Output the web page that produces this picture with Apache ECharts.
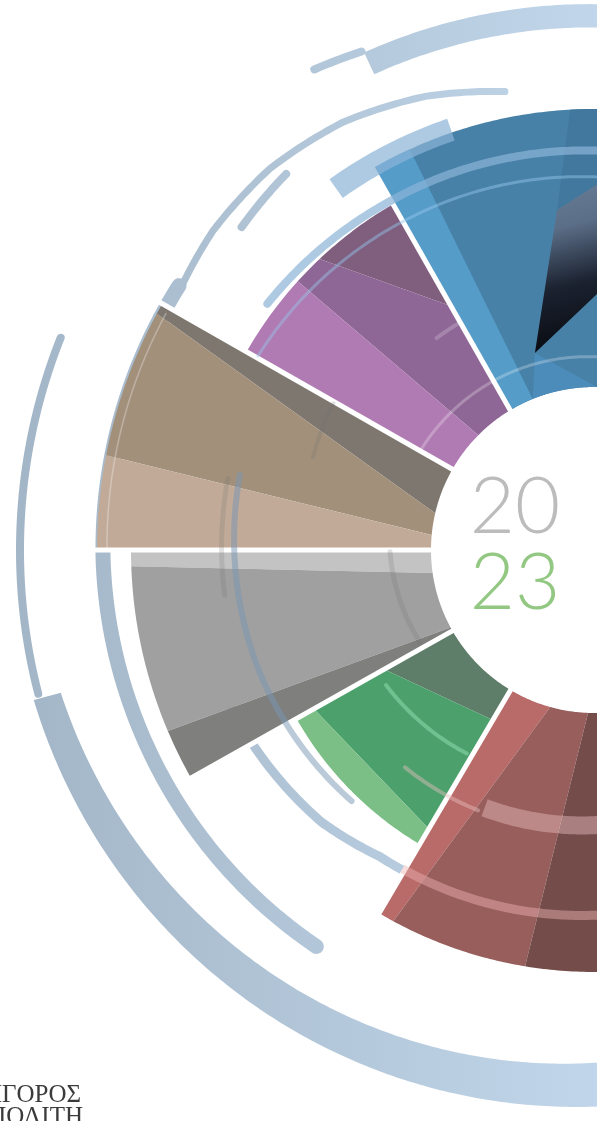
<!DOCTYPE html>
<html><head><meta charset="utf-8">
<script src="https://cdn.jsdelivr.net/npm/echarts@6/dist/echarts.min.js"></script>
<style>html,body{margin:0;padding:0;background:#fff;overflow:hidden}#c{width:597px;height:1121px}</style>
</head><body><div id="c"></div>
<script>
// Polar values: [angle in degrees (counter-clockwise from east), radius, arc-to-next flag]
const blueSegments = [
  [[121.0,163,0],[120.1,441,1],[80,441,0],[80,163,1]],
  [[93.1,441,1],[80,441,0],[80,360,0],[96.2,342,0]],
  [[106.7,205.6,0],[112.1,163,1],[88.9,163,0]],
  [[121.0,163,0],[120.1,441,1],[114.7,441,0],[112.1,163,1]],
  [[106.7,205.6,0],[96.2,342,0],[88,372,0],[88,262,0]]
];
const purpleSegments = [
  [[120.25,400,1],[133.3,400,0],[120.6,284,0]],
  [[120.6,284,0],[133.3,400,1],[137.8,400,0],[135.2,163,1],[121.0,163,0]],
  [[137.8,400,1],[150.3,400,0],[150.3,163,1],[135.2,163,0]]
];
const beigeSegments = [
  [[150.3,497,1],[151.6,497,0],[167,163,1],[150.3,163,0]],
  [[151.6,497,1],[169,497,0],[174.7,163,1],[167,163,0]],
  [[169,497,1],[180,497,0],[180,163,1],[174.7,163,0]]
];
const graySegments = [
  [[180,463,1],[182,463,0],[188.1,163,1],[180,163,0]],
  [[182,463,1],[203,463,0],[208.4,163,1],[188.1,163,0]],
  [[203,463,1],[209.5,463,0],[209.8,163,1],[208.4,163,0]]
];
const greenSegments = [
  [[209.8,163,0],[209.7,241,0],[239.2,198,0],[239.2,163,1]],
  [[209.7,241,0],[209.6,322,0],[239.3,324,0],[239.2,198,0]],
  [[209.6,322,0],[209.6,342,1],[239.3,342,0],[239.3,324,0]]
];
const redSegments = [
  [[239.2,163,0],[239.4,422,1],[241.6,422,0],[254.4,163,1]],
  [[241.6,422,1],[260.6,422,0],[267.9,163,1],[254.4,163,0]],
  [[260.6,422,1],[300,422,0],[300,163,1],[267.9,163,0]]
];
// gaps between groups: [angle, radius] inner -> outer
const separators = [
  [[121.0,158],[120.1,446]],
  [[150.3,158],[150.3,503]],
  [[180,158],[180,503]],
  [[209.75,158],[209.5,468]],
  [[239.2,158],[239.4,427]]
];
// decorative rings: bands [a1, a2, rIn1, rOut1, rIn2, rOut2]
const ringBands = [
  [114.8, 80, 524, 548, 522, 545],
  [195, 285, 552, 580, 505, 552]
];
// decorative strokes under the wedges: control points [angle, radius]
const ringStrokesUnder = [
  [[158.3,574],[194.5,574]],
  [[120.2,556],[115,550]],
  [[147.5,492],[181,491],[235,484]],
  [[147.9,489],[140.1,497],[130.3,500.5],[120.4,496],[110.4,484],[101,467]],
  [[137.5,478],[129.3,486]],
  [[199,398],[225,385],[235,374],[285,362]]
];
const ringStrokesUnderWidth = [8, 8, 15, 7, 8, 9];
// decorative strokes over the wedges
const ringStrokesOver = [
  [[143,409],[120,404],[80,398]],
  [[125.5,444],[108.8,444]],
  [[150,388],[120,380],[85,372]],
  [[150,200],[88,193]],
  [[169,373],[187,372]],
  [[168,362],[200,356],[226,349]],
  [[213,248],[238,240]],
  [[229,288],[246,285]],
  [[247,280],[285,272]],
  [[239,372],[285,362]],
  [[151,489],[180,487]],
  [[150.6,299],[161.7,296]],
  [[126.6,264],[120.8,264]],
  [[180.5,204],[208,197]]
];
const ringStrokesOverWidth = [8, 23, 3, 3, 5, 6, 4, 4, 18, 9, 1.5, 4, 4, 5];
const yearTop = '20';
const yearBottom = '23';
const orgLines = ['ΣΥΝΗΓΟΡΟΣ', 'ΤΟΥ ΠΟΛΙΤΗ'];

const groups = [blueSegments, purpleSegments, beigeSegments, graySegments, greenSegments, redSegments];
const wedgeGrad = new echarts.graphic.LinearGradient(0, 0, 0.6, 1, [
  {offset:0,color:'#6c7f98'},{offset:0.3,color:'#5b6e87'},{offset:0.62,color:'#1b2230'},{offset:1,color:'#07090e'}]);
const groupColors = [
  ['#4781a8','#42789d','#4c8cba','#569cc9', wedgeGrad],
  ['#7f5e7e','#8f6796','#b07bb3'],
  ['#7d776f','#a2907b','#c1ab98'],
  ['#c3c3c3','#a0a0a0','#7f807e'],
  ['#5f7e69','#4ba06c','#7bbf86'],
  ['#b86b69','#975e5c','#744d4b']
];
const paleGrad = new echarts.graphic.LinearGradient(0, 0, 597, 0,
  [{offset:0,color:'#a2b5c6'},{offset:1,color:'#c1d6ea'}], true);
const overColors = ['rgba(140,180,215,0.7)','rgba(140,180,215,0.7)','rgba(150,200,235,0.45)','rgba(255,255,255,0.25)',
  'rgba(110,110,110,0.2)','rgba(120,150,180,0.5)','rgba(150,225,180,0.5)','rgba(230,190,190,0.45)',
  'rgba(235,190,190,0.45)','rgba(240,180,180,0.45)','rgba(255,255,255,0.3)',
  'rgba(110,110,110,0.2)','rgba(255,255,255,0.2)','rgba(110,110,110,0.2)'];
const overCaps = ['round','butt','round','round','round','round','round','round','butt','butt','butt','round','round','round'];

function sampleLine(api, pts) {
  const out = [];
  for (let i = 0; i < pts.length - 1; i++) {
    const a = pts[i], b = pts[i+1];
    const n = Math.max(2, Math.ceil(Math.abs(b[0]-a[0]) / 0.5));
    for (let k = 0; k < n; k++) {
      const t = k / n;
      out.push(api.coord([a[1] + (b[1]-a[1])*t, a[0] + (b[0]-a[0])*t]));
    }
  }
  const last = pts[pts.length-1];
  out.push(api.coord([last[1], last[0]]));
  return out;
}
function polyPoints(api, verts) {
  const out = [];
  for (let i = 0; i < verts.length; i++) {
    const v = verts[i], w = verts[(i+1) % verts.length];
    if (v[2]) {
      const n = Math.max(2, Math.ceil(Math.abs(w[0]-v[0]) / 0.5));
      for (let k = 0; k < n; k++) {
        const t = k / n;
        out.push(api.coord([v[1] + (w[1]-v[1])*t, v[0] + (w[0]-v[0])*t]));
      }
    } else out.push(api.coord([v[1], v[0]]));
  }
  return out;
}

const pieceData = [];
groups.forEach((g, gi) => g.forEach((p, pi) => pieceData.push([0, 0, gi, pi])));

const option = {
  animation: false,
  polar: { center: [594, 550], radius: [0, 600] },
  angleAxis: { type: 'value', min: 0, max: 360, startAngle: 0, clockwise: false, show: false },
  radiusAxis: { type: 'value', min: 0, max: 600, show: false },
  series: [
    { type: 'custom', coordinateSystem: 'polar', silent: true,
      data: ringBands.map((b, i) => [0, 0, i]),
      renderItem: (params, api) => {
        const b = ringBands[api.value(2)];
        const outer = sampleLine(api, [[b[0], b[3]], [b[1], b[5]]]);
        const inner = sampleLine(api, [[b[1], b[4]], [b[0], b[2]]]);
        return { type: 'polygon', shape: { points: outer.concat(inner) }, style: { fill: paleGrad } };
      } },
    { type: 'custom', coordinateSystem: 'polar', silent: true,
      data: ringStrokesUnder.map((b, i) => [0, 0, i]),
      renderItem: (params, api) => {
        const i = api.value(2);
        return { type: 'polyline', shape: { points: sampleLine(api, ringStrokesUnder[i]) },
          style: { stroke: paleGrad, lineWidth: ringStrokesUnderWidth[i], lineCap: 'round', lineJoin: 'round', fill: null } };
      } },
    { type: 'custom', coordinateSystem: 'polar', silent: true,
      data: pieceData,
      renderItem: (params, api) => {
        const gi = api.value(2), pi = api.value(3);
        return { type: 'polygon', shape: { points: polyPoints(api, groups[gi][pi]) },
          style: { fill: groupColors[gi][pi] } };
      } },
    { type: 'custom', coordinateSystem: 'polar', silent: true,
      data: separators.map((s, i) => [0, 0, i]),
      renderItem: (params, api) => {
        const s = separators[api.value(2)];
        const p1 = api.coord([s[0][1], s[0][0]]), p2 = api.coord([s[1][1], s[1][0]]);
        return { type: 'line', shape: { x1: p1[0], y1: p1[1], x2: p2[0], y2: p2[1] },
          style: { stroke: '#ffffff', lineWidth: 5 } };
      } },
    { type: 'custom', coordinateSystem: 'polar', silent: true,
      data: ringStrokesOver.map((b, i) => [0, 0, i]),
      renderItem: (params, api) => {
        const i = api.value(2);
        return { type: 'polyline', shape: { points: sampleLine(api, ringStrokesOver[i]) },
          style: { stroke: overColors[i], lineWidth: ringStrokesOverWidth[i], lineCap: overCaps[i], fill: null } };
      } }
  ],
  graphic: [
    { type: 'text', x: 515, y: 508, style: { text: yearTop, font: '300 78px Lato', fill: '#bcbcbc', align: 'center', verticalAlign: 'middle' } },
    { type: 'text', x: 515, y: 584, style: { text: yearBottom, font: '300 78px Lato', fill: '#93c882', align: 'center', verticalAlign: 'middle' } },
    { type: 'text', x: 81, y: 1095, style: { text: orgLines[0], font: '25px "Liberation Serif"', fill: '#3b3b3b', align: 'right', verticalAlign: 'middle' } },
    { type: 'text', x: 83, y: 1117, style: { text: orgLines[1], font: '25px "Liberation Serif"', fill: '#3b3b3b', align: 'right', verticalAlign: 'middle' } }
  ]
};
const chart = echarts.init(document.getElementById('c'));
chart.setOption(option);
</script></body></html>
